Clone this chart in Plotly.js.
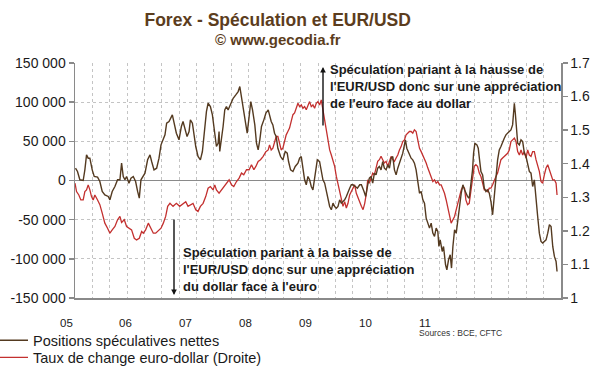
<!DOCTYPE html>
<html><head><meta charset="utf-8">
<script src="https://cdn.plot.ly/plotly-3.0.1.min.js"></script>
<style>html,body{margin:0;padding:0;background:#fff}#chart{width:600px;height:372px}</style>
</head><body><div id="chart"></div>
<script>
// ---- DATA (decimal years) ----
const posX = [2005.007,2005.036,2005.070,2005.118,2005.142,2005.166,2005.190,2005.214,2005.248,2005.277,2005.325,2005.358,2005.392,2005.430,2005.479,2005.503,2005.536,2005.575,2005.613,2005.647,2005.671,2005.695,2005.719,2005.743,2005.777,2005.806,2005.839,2005.873,2005.902,2005.926,2005.950,2005.974,
2006.008,2006.046,2006.080,2006.104,2006.138,2006.176,2006.210,2006.239,2006.272,2006.296,2006.320,2006.354,2006.402,2006.436,2006.460,2006.498,2006.532,2006.556,2006.580,2006.614,2006.643,2006.662,2006.691,2006.710,2006.739,2006.772,2006.806,2006.835,2006.869,2006.893,2006.917,2006.950,2006.979,
2007.013,2007.037,2007.061,2007.075,2007.085,2007.109,2007.133,2007.157,2007.181,2007.205,2007.229,2007.254,2007.278,2007.316,2007.350,2007.374,2007.398,2007.422,2007.460,2007.480,2007.508,2007.532,2007.557,2007.590,2007.614,2007.638,2007.662,2007.686,2007.720,2007.749,2007.783,2007.826,2007.850,2007.874,2007.898,2007.922,2007.961,2007.994,
2008.028,2008.057,2008.076,2008.105,2008.139,2008.172,2008.211,2008.235,2008.259,2008.283,2008.307,2008.331,2008.355,2008.379,2008.403,2008.427,2008.451,2008.490,2008.523,2008.547,2008.571,2008.596,2008.620,2008.644,2008.668,2008.692,2008.716,2008.740,2008.764,2008.788,2008.812,2008.836,2008.860,2008.884,2008.908,2008.932,2008.956,2008.980,
2009.004,2009.038,2009.067,2009.101,2009.125,2009.163,2009.187,2009.216,2009.240,2009.264,2009.288,2009.312,2009.336,2009.360,2009.384,2009.408,2009.432,2009.456,2009.481,2009.505,2009.529,2009.553,2009.577,2009.601,2009.625,2009.649,2009.673,2009.697,2009.721,2009.745,2009.759,2009.779,2009.808,2009.841,2009.865,2009.889,2009.913,2009.937,2009.962,2009.986,
2010.010,2010.034,2010.058,2010.082,2010.106,2010.130,2010.154,2010.178,2010.202,2010.226,2010.241,2010.260,2010.289,2010.308,2010.337,2010.356,2010.380,2010.404,2010.423,2010.443,2010.467,2010.491,2010.515,2010.539,2010.563,2010.587,2010.611,2010.654,2010.678,2010.702,2010.726,2010.741,2010.760,2010.789,2010.808,2010.827,2010.847,2010.871,2010.895,2010.919,2010.943,2010.967,2010.991,
2011.015,2011.039,2011.063,2011.087,2011.111,2011.135,2011.159,2011.183,2011.207,2011.231,2011.255,2011.279,2011.303,2011.318,2011.328,2011.342,2011.356,2011.376,2011.400,2011.424,2011.448,2011.472,2011.496,2011.520,2011.544,2011.568,2011.592,2011.616,2011.640,2011.664,2011.688,2011.712,2011.736,2011.760,2011.785,2011.809,2011.833,2011.857,2011.881,2011.905,2011.929,2011.943];
const posY = [15700,11500,900,0,13600,32700,28500,28500,13600,5100,4300,-1300,-14000,-18300,-20400,-24700,-14000,-7700,900,900,22100,5100,900,5100,-3400,3000,5100,-1300,-14000,-22500,900,5100,
9400,26400,32700,24200,13600,15700,28500,45500,51900,58300,73100,75300,83800,71000,60400,51900,68900,75300,66800,56100,62500,77400,73100,58300,43400,30600,26400,37000,66800,88000,98600,94400,83800,
62500,43400,47600,62500,37000,51900,68900,90100,94400,90100,94400,98600,105000,109300,113500,119900,107200,90100,73100,60400,81600,100800,90100,71000,47600,39100,51900,68900,77400,85900,90100,75300,71000,60400,56100,41200,30600,26400,
37000,34900,24200,13600,11500,17900,22100,28500,30600,11500,900,-5500,5100,900,-7700,-11900,5100,26400,24200,13600,900,-3400,-14000,-24700,-33200,-37400,-28900,-33200,-35300,-33200,-24700,-28900,-26800,-24700,-20400,-14000,-9800,-5500,
-5500,-7700,-9800,-5500,-5500,-14000,-20400,-5500,3000,5100,-3400,9400,7200,15700,17900,13600,24200,15700,13600,20000,15700,28500,30600,13600,7200,15700,22100,26400,34900,45500,51900,41200,34900,28500,26400,22100,13600,-3400,-16200,-14000,
-24700,-28900,-48000,-54400,-60800,-54400,-67200,-71400,-60800,-65100,-84200,-75700,-90600,-84200,-107600,-114000,-101200,-94800,-111800,-84200,-62900,-67200,-45900,-33200,-16200,-5500,-11900,-20400,-22500,-7700,13600,34900,47600,45500,41200,26400,11500,7200,-9800,-14000,-11900,-16200,-26800,
-43800,-24700,3000,26400,39100,43400,49700,54000,58300,60400,62500,64600,71000,83800,98600,85900,64600,47600,45500,51900,49700,34900,30600,22100,11500,9400,-7700,900,-28900,-45900,-67200,-77800,-79900,-77800,-75700,-67200,-56500,-58700,-84200,-96900,-103300,-116100];

const rateX = [2005.000,2005.022,2005.055,2005.084,2005.118,2005.142,2005.166,2005.190,2005.214,2005.238,2005.262,2005.286,2005.325,2005.358,2005.392,2005.430,2005.469,2005.503,2005.536,2005.575,2005.613,2005.647,2005.671,2005.710,2005.743,2005.777,2005.815,2005.854,2005.887,2005.926,2005.960,2005.984,
2006.017,2006.056,2006.089,2006.128,2006.162,2006.200,2006.239,2006.272,2006.306,2006.335,2006.368,2006.412,2006.460,2006.508,2006.556,2006.595,2006.628,2006.662,2006.700,2006.739,2006.772,2006.806,2006.845,2006.883,2006.917,2006.950,2006.989,
2007.013,2007.037,2007.075,2007.109,2007.143,2007.181,2007.220,2007.254,2007.287,2007.326,2007.364,2007.398,2007.431,2007.470,2007.508,2007.542,2007.576,2007.605,2007.638,2007.672,2007.710,2007.749,2007.783,2007.802,2007.826,2007.850,2007.874,2007.898,2007.922,2007.946,2007.970,2007.994,
2008.018,2008.042,2008.066,2008.090,2008.114,2008.139,2008.163,2008.187,2008.211,2008.235,2008.259,2008.283,2008.307,2008.331,2008.355,2008.379,2008.403,2008.427,2008.451,2008.475,2008.499,2008.523,2008.547,2008.571,2008.596,2008.620,2008.644,2008.668,2008.692,2008.716,2008.740,2008.764,2008.788,2008.812,2008.836,2008.860,2008.884,2008.908,2008.932,2008.956,2008.980,
2009.004,2009.028,2009.052,2009.076,2009.101,2009.125,2009.149,2009.173,2009.197,2009.216,2009.240,2009.264,2009.288,2009.312,2009.336,2009.360,2009.384,2009.408,2009.432,2009.456,2009.481,2009.505,2009.529,2009.553,2009.577,2009.601,2009.625,2009.649,2009.673,2009.697,2009.721,2009.745,2009.769,2009.793,2009.817,2009.841,2009.865,2009.889,2009.913,2009.937,2009.962,2009.986,
2010.010,2010.034,2010.058,2010.082,2010.106,2010.130,2010.154,2010.178,2010.202,2010.226,2010.250,2010.274,2010.298,2010.322,2010.346,2010.370,2010.394,2010.418,2010.443,2010.467,2010.491,2010.515,2010.539,2010.563,2010.587,2010.611,2010.630,2010.654,2010.678,2010.702,2010.726,2010.750,2010.774,2010.798,2010.823,2010.847,2010.871,2010.895,2010.919,2010.943,2010.967,2010.991,
2011.015,2011.039,2011.063,2011.087,2011.111,2011.135,2011.159,2011.183,2011.207,2011.231,2011.255,2011.279,2011.303,2011.328,2011.352,2011.376,2011.400,2011.424,2011.448,2011.472,2011.496,2011.520,2011.544,2011.568,2011.592,2011.616,2011.640,2011.664,2011.688,2011.712,2011.736,2011.760,2011.785,2011.809,2011.833,2011.857,2011.881,2011.905,2011.929,2011.943];
const rateY = [1.342,1.317,1.307,1.292,1.292,1.317,1.322,1.337,1.322,1.302,1.292,1.307,1.292,1.278,1.253,1.223,1.208,1.193,1.203,1.213,1.233,1.243,1.225,1.233,1.213,1.208,1.203,1.178,1.173,1.178,1.198,1.193,
1.203,1.223,1.208,1.193,1.193,1.201,1.208,1.223,1.243,1.273,1.282,1.273,1.282,1.273,1.282,1.287,1.273,1.278,1.282,1.263,1.258,1.273,1.282,1.302,1.327,1.332,1.322,
1.337,1.322,1.312,1.322,1.332,1.342,1.352,1.337,1.332,1.347,1.357,1.372,1.367,1.382,1.382,1.397,1.382,1.392,1.407,1.412,1.422,1.436,1.441,1.456,1.441,1.446,1.466,1.481,1.481,1.461,1.441,1.446,
1.466,1.486,1.496,1.506,1.526,1.546,1.551,1.565,1.580,1.570,1.575,1.565,1.570,1.561,1.575,1.585,1.570,1.575,1.565,1.580,1.585,1.575,1.590,1.561,1.536,1.496,1.471,1.441,1.426,1.412,1.392,1.362,1.337,1.322,1.292,1.273,1.287,1.268,1.282,1.307,1.317,
1.327,1.337,1.312,1.297,1.282,1.273,1.263,1.282,1.312,1.352,1.342,1.357,1.372,1.367,1.392,1.407,1.412,1.422,1.412,1.402,1.407,1.392,1.407,1.422,1.412,1.407,1.417,1.426,1.441,1.451,1.466,1.471,1.486,1.491,1.496,1.496,1.491,1.501,1.496,1.471,1.446,1.436,
1.426,1.417,1.402,1.387,1.372,1.357,1.347,1.352,1.342,1.347,1.337,1.337,1.327,1.312,1.292,1.268,1.248,1.223,1.233,1.243,1.263,1.282,1.302,1.322,1.332,1.327,1.292,1.278,1.282,1.322,1.362,1.392,1.397,1.392,1.372,1.362,1.342,1.322,1.322,1.317,1.327,1.327,
1.337,1.352,1.362,1.372,1.392,1.412,1.417,1.422,1.426,1.431,1.441,1.466,1.471,1.476,1.466,1.436,1.426,1.441,1.426,1.436,1.417,1.441,1.426,1.422,1.436,1.436,1.412,1.397,1.377,1.347,1.342,1.367,1.387,1.397,1.382,1.372,1.352,1.352,1.342,1.307];

const seriesNames = ['Positions spéculatives nettes', 'Taux de change euro-dollar (Droite)'];
const yearLabels = ['05','06','07','08','09','10','11'];
const leftTickVals = [-150000,-100000,-50000,0,50000,100000,150000];
const leftTickText = ['-150 000','-100 000','-50 000','0','50 000','100 000','150 000'];
const rightTickVals = [1,1.1,1.2,1.3,1.4,1.5,1.6,1.7];
const rightTickText = ['1','1.1','1.2','1.3','1.4','1.5','1.6','1.7'];
const titleText = 'Forex - Spéculation et EUR/USD';
const subtitleText = '© www.gecodia.fr';
const sourceText = 'Sources : BCE, CFTC';
const upNote = 'Spéculation pariant à la hausse de<br>l\'EUR/USD donc sur une appréciation<br>de l\'euro face au dollar';
const downNote = 'Spéculation pariant à la baisse de<br>l\'EUR/USD donc sur une appréciation<br>du dollar face à l\'euro';

// ---- LAYOUT ----
const W = 600, H = 372;
const M = {l: 75, r: 39, t: 63, b: 74, autoexpand: false};
const PW = W - M.l - M.r, PH = H - M.t - M.b;
const px = x => (x - M.l) / PW;
const py = y => (H - M.b - y) / PH;
const FONT = 'Liberation Sans, Arial, sans-serif';
const BROWN = '#543a20', RED = '#c3302f', AXIS = '#8a8a8a', GRID = '#c4c4c4', INK = '#1a1a1a', TITLE = '#5c3d1d';

const traces = [
  {type: 'scatter', mode: 'lines', name: seriesNames[1], x: rateX, y: rateY, yaxis: 'y', xaxis: 'x',
   line: {color: RED, width: 1.3}, legend: 'legend2', hoverinfo: 'skip'},
  {type: 'scatter', mode: 'lines', name: seriesNames[0], x: posX, y: posY, yaxis: 'y2', xaxis: 'x',
   line: {color: BROWN, width: 1.4}, legend: 'legend', hoverinfo: 'skip'}
];

const annotations = [];
yearLabels.forEach((t, i) => {
  annotations.push({text: t, xref: 'paper', yref: 'paper', x: px(66 + 59.8 * i), y: py(322.5),
    xanchor: 'center', yanchor: 'middle', showarrow: false, font: {family: FONT, size: 11.5, color: INK}});
});
annotations.push({text: subtitleText, xref: 'paper', yref: 'paper', x: px(278.3), y: py(39),
  xanchor: 'center', yanchor: 'middle', showarrow: false, font: {family: FONT, size: 15, color: TITLE, weight: 700}});
annotations.push({text: sourceText, xref: 'paper', yref: 'paper', x: px(460), y: py(332.5),
  xanchor: 'center', yanchor: 'middle', showarrow: false, font: {family: FONT, size: 8.5, color: '#333'}});
annotations.push({text: upNote, xref: 'paper', yref: 'paper', x: px(328), y: py(86.5), align: 'left',
  xanchor: 'left', yanchor: 'middle', showarrow: false, font: {family: FONT, size: 13, color: INK, weight: 700}});
annotations.push({text: downNote, xref: 'paper', yref: 'paper', x: px(181), y: py(269.5), align: 'left',
  xanchor: 'left', yanchor: 'middle', showarrow: false, font: {family: FONT, size: 13, color: INK, weight: 700}});
annotations.push({text: '', xref: 'paper', yref: 'paper', x: px(323), y: py(67), ax: 0, ay: 60,
  showarrow: true, arrowhead: 2, arrowsize: 0.8, arrowwidth: 1.4, arrowcolor: '#111'});
annotations.push({text: '', xref: 'paper', yref: 'paper', x: px(174), y: py(295), ax: 0, ay: -77,
  showarrow: true, arrowhead: 2, arrowsize: 0.8, arrowwidth: 1.4, arrowcolor: '#111'});

const tickAxis = side => ({overlaying: 'x', range: [2005, 2012], autorange: false, anchor: 'free', position: 0.5,
  tick0: 2005, dtick: 1, ticks: side, ticklen: 4, tickwidth: 1.5, tickcolor: AXIS,
  showline: false, showgrid: false, zeroline: false, showticklabels: false, fixedrange: true});

const legendBase = {xref: 'paper', yref: 'paper', xanchor: 'left', yanchor: 'middle', x: px(-7),
  bgcolor: 'rgba(0,0,0,0)', borderwidth: 0, font: {family: FONT, size: 14.5, color: INK}};

const layout = {
  width: W, height: H, margin: M, paper_bgcolor: '#fff', plot_bgcolor: '#fff',
  font: {family: FONT, color: INK},
  title: {text: titleText, xref: 'container', yref: 'container', x: 277.7 / W, y: 1 - 20 / H,
    xanchor: 'center', yanchor: 'middle', font: {family: FONT, size: 17.5, color: TITLE, weight: 700}},
  showlegend: true,
  legend: Object.assign({}, legendBase, {y: py(340.3)}),
  legend2: Object.assign({}, legendBase, {y: py(357.5)}),
  xaxis: {range: [2005, 2012], autorange: false, anchor: 'y', tick0: 2005, dtick: 1,
    showticklabels: false, ticks: '', showline: true, linecolor: AXIS, linewidth: 1.5, mirror: false,
    showgrid: true, gridcolor: GRID, griddash: 'dot', gridwidth: 1, zeroline: false,
    minor: {tick0: 2005, dtick: 0.25, showgrid: true, gridcolor: GRID, griddash: 'dot', gridwidth: 1, ticks: ''}},
  xaxis2: tickAxis('outside'),
  xaxis3: tickAxis('inside'),
  yaxis: {range: [1, 1.7], autorange: false, side: 'right', anchor: 'x', tickvals: rightTickVals, ticktext: rightTickText,
    ticks: 'outside', ticklen: 5, tickwidth: 1.5, tickcolor: AXIS, showline: true, linecolor: AXIS, linewidth: 1.5,
    showgrid: false, zeroline: false, tickfont: {family: FONT, size: 14, color: INK}},
  yaxis2: {range: [-150000, 150000], autorange: false, side: 'left', overlaying: 'y', anchor: 'x',
    tickvals: leftTickVals, ticktext: leftTickText,
    ticks: 'outside', ticklen: 5, tickwidth: 1.5, tickcolor: AXIS, showline: true, linecolor: AXIS, linewidth: 1.5,
    showgrid: true, gridcolor: GRID, griddash: 'dot', gridwidth: 1,
    zeroline: true, zerolinecolor: AXIS, zerolinewidth: 1.5, tickfont: {family: FONT, size: 14, color: INK}},
  annotations: annotations
};

Plotly.newPlot('chart', traces, layout, {displayModeBar: false, staticPlot: true});
</script>
</body></html>
